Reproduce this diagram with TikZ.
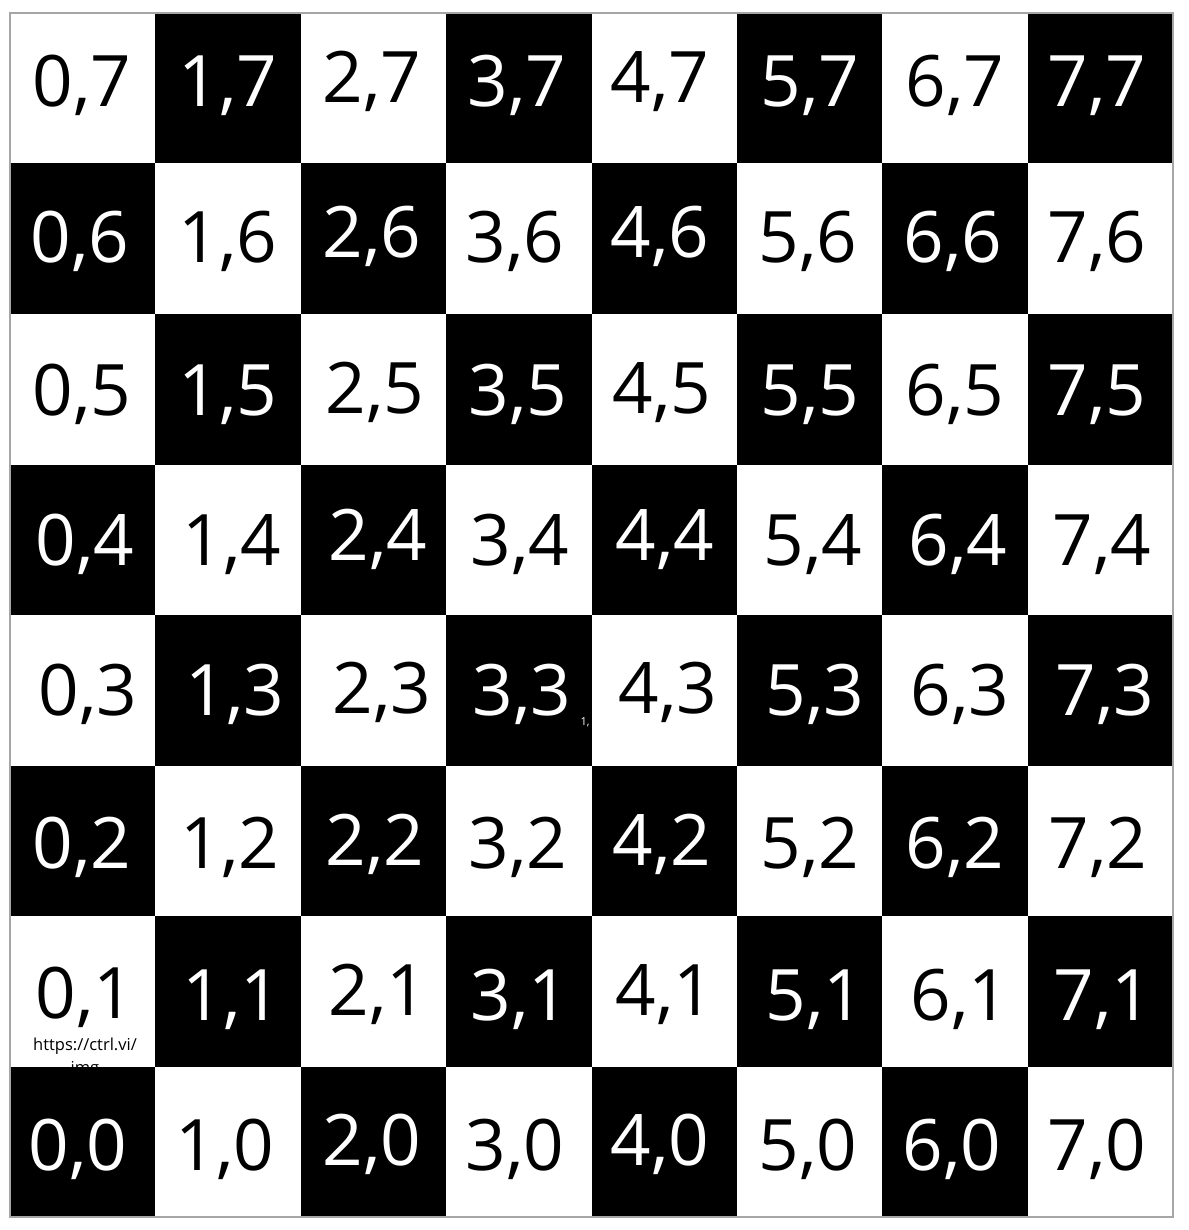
\documentclass[tikz,border=0pt]{standalone}
\usepackage{fontspec}
\setmainfont{Open Sans}
\tikzset{
  lbl/.style={anchor=base, inner sep=0pt, font=\fontsize{71}{71}\selectfont},
  small/.style={inner sep=0pt, font=\fontsize{16.5}{16.5}\selectfont},
  darkcell/.style={fill=black},
  lightcell/.style={fill=white},
}
\begin{document}
\begin{tikzpicture}[x=1pt,y=-1pt]
\useasboundingbox[fill=white] (0,0) rectangle (1188,1230);
% cells
\foreach \i in {0,...,7}{
  \foreach \j in {0,...,7}{
    \pgfmathtruncatemacro\s{\i+\j}
    \ifodd\s
      \fill[lightcell] ({10+145.375*\i},{13+150.5*(7-\j)}) rectangle ++(145.375,150.5);
    \else
      \fill[darkcell] ({10+145.375*\i},{13+150.5*(7-\j)}) rectangle ++(145.375,150.5);
    \fi
  }
}
% url text (partly covered by cell 0,0)
\node[small] (url1) at (85,1046) {https://ctrl.vi/};
\node[small] (url2) at (85,1069) {img};
\fill[darkcell] (10,{13+150.5*7}) rectangle ++(145.375,150.5);
% border
\draw[gray!70, line width=1.2pt] (10,13) rectangle (1173,1217);
% labels
\foreach \i/\j/\cx/\cy in {
 0/7/82/82, 1/7/228/82, 2/7/372/78, 3/7/517/82, 4/7/660/78, 5/7/810/82, 6/7/955/82, 7/7/1097/82,
 0/6/80/238, 1/6/228/238, 2/6/372/233, 3/6/515/238, 4/6/660/233, 5/6/808/238, 6/6/953/238, 7/6/1097/238,
 0/5/82/390, 1/5/228/390, 2/5/375/388, 3/5/518/390, 4/5/662/388, 5/5/810/390, 6/5/955/390, 7/5/1097/390,
 0/4/85/540, 1/4/232/540, 2/4/378/535, 3/4/520/540, 4/4/665/535, 5/4/813/540, 6/4/958/540, 7/4/1102/540,
 0/3/88/690, 1/3/235/690, 2/3/382/688, 3/3/522/690, 4/3/668/688, 5/3/815/690, 6/3/960/690, 7/3/1105/690,
 0/2/82/843, 1/2/230/843, 2/2/375/840, 3/2/518/843, 4/2/662/840, 5/2/810/843, 6/2/955/843, 7/2/1098/843,
 0/1/85/993, 1/1/232/995, 2/1/378/990, 3/1/520/995, 4/1/665/990, 5/1/815/995, 6/1/960/995, 7/1/1103/995,
 0/0/78/1145, 1/0/225/1145, 2/0/372/1140, 3/0/515/1145, 4/0/660/1140, 5/0/808/1145, 6/0/952/1145, 7/0/1097/1145}{
  \pgfmathtruncatemacro\s{\i+\j}
  \ifodd\s \def\tc{black}\else \def\tc{white}\fi
  \node[lbl, text=\tc] (c-\i-\j) at ({\cx},{\cy+25}) {\i,\j};
}
\node[inner sep=0pt, text=white, font=\fontsize{11}{11}\selectfont] (tiny) at (585,722) {1,};
\end{tikzpicture}
\end{document}
